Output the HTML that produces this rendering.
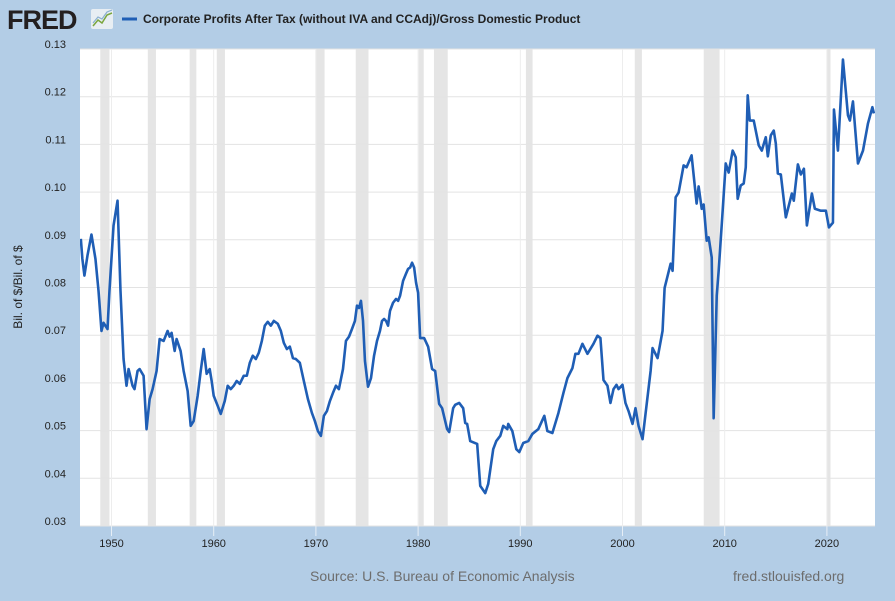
<!DOCTYPE html>
<html><head><meta charset="utf-8">
<style>
html,body{margin:0;padding:0;}
body{width:895px;height:601px;background:#b3cde6;overflow:hidden;font-family:"Liberation Sans",Arial,sans-serif;}
svg{display:block;}
</style></head>
<body>
<svg id="chart" width="895" height="601" xmlns="http://www.w3.org/2000/svg">
  <rect x="0" y="0" width="895" height="601" fill="#b3cde6"/>
  <g>
    <text x="7" y="29" font-family="Liberation Sans, sans-serif" font-size="27" font-weight="bold" fill="#231f20" letter-spacing="-1">FRED</text>
    <rect x="91" y="9" width="22" height="20" rx="2" fill="#e8eef3"/>
    <polyline points="93,26 98,20 102,23 107,15 112,13" fill="none" stroke="#7aa63f" stroke-width="1.5"/>
    <polyline points="93,23 98,17 102,19 107,12 112,10" fill="none" stroke="#8bb0d0" stroke-width="1.2"/>
  </g>
  <g>
    <line x1="122" y1="19" x2="137" y2="19" stroke="#1f5eb5" stroke-width="3"/>
    <text x="143" y="23" font-size="12" font-weight="bold" fill="#222">Corporate Profits After Tax (without IVA and CCAdj)/Gross Domestic Product</text>
  </g>
  <rect x="80" y="49" width="795" height="477" fill="#ffffff"/>
  <g id="recessions"></g>
  <g id="grid"></g>
  <g id="series"></g>
  <g id="axes"></g>
  <text transform="translate(22,287) rotate(-90)" text-anchor="middle" font-size="12" fill="#222">Bil. of $/Bil. of $</text>
  <text x="310" y="581" font-size="14" fill="#6d6d6d">Source: U.S. Bureau of Economic Analysis</text>
  <text x="733" y="581" font-size="14" fill="#6d6d6d">fred.stlouisfed.org</text>
</svg>
<script>
const yTicks = [0.03,0.04,0.05,0.06,0.07,0.08,0.09,0.10,0.11,0.12,0.13];
const yTickLabels = ["0.03","0.04","0.05","0.06","0.07","0.08","0.09","0.10","0.11","0.12","0.13"];
const xTicks = [1950,1960,1970,1980,1990,2000,2010,2020];
const xTickLabels = ["1950","1960","1970","1980","1990","2000","2010","2020"];
const recessionStarts = [1948.9,1953.55,1957.65,1960.3,1969.95,1973.9,1980.05,1981.55,1990.55,2001.2,2007.95,2020.0];
const recessionEnds   = [1949.8,1954.35,1958.3,1961.1,1970.85,1975.15,1980.55,1982.9,1991.2,2001.9,2009.5,2020.35];
const years = [1947.0,1947.15,1947.35,1947.65,1948.04,1948.43,1948.73,1949.02,1949.22,1949.61,1949.80,
1950.20,1950.59,1950.88,1951.18,1951.47,1951.67,1952.06,1952.25,1952.55,1952.75,
1953.14,1953.43,1953.73,1954.02,1954.41,1954.71,1955.10,1955.49,1955.69,1955.88,
1956.18,1956.37,1956.76,1957.06,1957.45,1957.75,1958.04,1958.43,1958.73,1959.02,
1959.31,1959.61,1959.80,1960.00,1960.39,1960.69,1961.08,1961.37,1961.67,1961.96,
1962.25,1962.55,1962.94,1963.24,1963.53,1963.82,1964.12,1964.41,1964.71,1965.00,
1965.29,1965.59,1965.88,1966.27,1966.57,1966.86,1967.16,1967.45,1967.75,1968.04,
1968.43,1968.82,1969.22,1969.61,1969.90,1970.20,1970.49,1970.78,1971.08,
1971.37,1971.67,1971.96,1972.25,1972.65,1972.94,1973.24,1973.53,1973.82,1974.02,
1974.22,1974.41,1974.61,1974.80,1975.10,1975.39,1975.69,1975.98,1976.27,1976.47,1976.67,1976.86,
1977.06,1977.25,1977.55,1977.84,1978.04,1978.24,1978.53,1978.82,1979.02,1979.22,1979.41,1979.61,
1979.80,1980.00,1980.20,1980.59,1980.98,1981.37,1981.67,1982.06,1982.35,1982.84,1983.04,1983.43,1983.63,
1984.02,1984.41,1984.61,1984.80,1985.10,1985.78,1986.08,1986.57,1986.86,1987.35,1987.65,1988.04,1988.33,
1988.73,1988.82,1989.22,1989.61,1989.90,1990.29,1990.78,1991.18,1991.76,1992.35,1992.65,1993.14,1993.73,
1994.22,1994.61,1995.10,1995.39,1995.69,1996.08,1996.57,1997.16,1997.55,1997.84,1998.14,1998.53,1998.82,
1999.12,1999.41,1999.61,2000.00,2000.29,2000.59,2000.98,2001.27,2001.57,2001.96,2002.75,2002.94,2003.43,
2003.92,2004.12,2004.71,2004.90,2005.20,2005.49,2005.98,2006.27,2006.76,2007.25,2007.45,2007.75,2007.94,
2008.24,2008.43,2008.73,2008.92,2009.22,2009.41,2009.80,2010.10,2010.39,2010.78,2011.08,2011.27,2011.57,
2011.86,2012.06,2012.25,2012.45,2012.84,2013.33,2013.63,2014.02,2014.22,2014.51,2014.80,2015.00,2015.20,
2015.49,2015.98,2016.57,2016.76,2017.16,2017.45,2017.75,2018.04,2018.53,2018.82,2019.41,2019.90,2020.20,
2020.59,2020.69,2021.08,2021.57,2022.06,2022.25,2022.55,2023.04,2023.53,2024.02,2024.45,2024.6];
const values = [0.0902,0.0860,0.0825,0.0867,0.0911,0.0860,0.0793,0.0709,0.0726,0.0713,0.0793,
0.0930,0.0982,0.0793,0.0650,0.0594,0.0629,0.0594,0.0587,0.0625,0.0629,
0.0615,0.0503,0.0566,0.0587,0.0625,0.0692,0.0688,0.0709,0.0697,0.0705,
0.0667,0.0692,0.0667,0.0625,0.0583,0.0510,0.0520,0.0573,0.0625,0.0671,
0.0619,0.0629,0.0604,0.0573,0.0552,0.0535,0.0562,0.0594,0.0587,0.0594,
0.0604,0.0598,0.0615,0.0615,0.0642,0.0657,0.0650,0.0663,0.0688,0.0720,
0.0728,0.0720,0.0730,0.0724,0.0709,0.0684,0.0671,0.0676,0.0652,0.0650,
0.0642,0.0604,0.0566,0.0537,0.0520,0.0499,0.0489,0.0531,0.0541,
0.0562,0.0579,0.0594,0.0587,0.0629,0.0688,0.0697,0.0713,0.0730,0.0762,
0.0757,0.0772,0.0730,0.0646,0.0592,0.0610,0.0657,0.0688,0.0709,0.0730,0.0734,0.0730,
0.0720,0.0751,0.0768,0.0776,0.0772,0.0783,0.0814,0.0829,0.0839,0.0842,0.0852,0.0842,
0.0810,0.0789,0.0694,0.0694,0.0676,0.0629,0.0625,0.0556,0.0547,0.0503,0.0497,0.0547,0.0554,
0.0558,0.0547,0.0516,0.0514,0.0478,0.0472,0.0384,0.0369,0.0388,0.0461,0.0478,0.0489,0.0510,
0.0503,0.0514,0.0499,0.0461,0.0455,0.0474,0.0478,0.0493,0.0503,0.0531,0.0499,0.0495,0.0537,
0.0579,0.0610,0.0631,0.0661,0.0661,0.0682,0.0661,0.0682,0.0699,0.0694,0.0606,0.0594,0.0558,
0.0587,0.0596,0.0587,0.0596,0.0558,0.0541,0.0514,0.0547,0.0510,0.0482,0.0625,0.0673,0.0652,
0.0709,0.0799,0.0850,0.0835,0.0989,0.0999,0.1056,0.1052,0.1077,0.0976,0.1012,0.0965,0.0974,
0.0898,0.0905,0.0863,0.0526,0.0783,0.0835,0.0961,0.1060,0.1041,0.1087,0.1073,0.0986,0.1014,
0.1018,0.1052,0.1203,0.1150,0.1150,0.1098,0.1087,0.1115,0.1075,0.1119,0.1129,0.1102,0.1039,
0.1037,0.0947,0.0997,0.0982,0.1058,0.1037,0.1049,0.0930,0.0997,0.0965,0.0961,0.0961,0.0926,
0.0936,0.1173,0.1087,0.1278,0.1161,0.1150,0.1190,0.1060,0.1087,0.1144,0.1178,0.1165];

const NS = "http://www.w3.org/2000/svg";
const PL = 80, PR = 875, PT = 49, PB = 526;
function xScale(yr){ return 111.5 + (yr - 1950) * 10.22; }
function yScale(v){ return PT + (0.13 - v) * 4770; }
function mk(tag, attrs, parent){
  const el = document.createElementNS(NS, tag);
  for (const k in attrs) el.setAttribute(k, attrs[k]);
  parent.appendChild(el);
  return el;
}
const gRec = document.getElementById('recessions');
const gGrid = document.getElementById('grid');
const gSer = document.getElementById('series');
const gAx = document.getElementById('axes');

for (let i = 0; i < recessionStarts.length; i++) {
  const x1 = Math.max(PL, xScale(recessionStarts[i]));
  const x2 = Math.min(PR, xScale(recessionEnds[i]));
  const r = mk('rect', {x:x1, y:PT, width:x2-x1, height:PB-PT, fill:'#e5e5e5'}, gRec);
  
  
}
for (let i = 0; i < yTicks.length; i++) {
  const y = yScale(yTicks[i]);
  const l = mk('line', {x1:PL, x2:PR, y1:y, y2:y, stroke:'#e3e3e3', 'stroke-width':1}, gGrid);
  
  
  const t = mk('text', {x:66, y:y-1, 'text-anchor':'end', 'font-size':11, fill:'#222'}, gAx);
  t.textContent = yTickLabels[i];
  
  
}
for (let i = 0; i < xTicks.length; i++) {
  const x = xScale(xTicks[i]);
  const l = mk('line', {x1:x, x2:x, y1:PT, y2:PB, stroke:'#ededed', 'stroke-width':1}, gGrid);
  
  
  const tk = mk('line', {x1:x, x2:x, y1:PB, y2:PB+10, stroke:'#e6eef6', 'stroke-width':1}, gAx);
  
  
  const t = mk('text', {x:x, y:PB+21, 'text-anchor':'middle', 'font-size':11, fill:'#222'}, gAx);
  t.textContent = xTickLabels[i];
  
  
}
const clip = mk('clipPath', {id:'plotclip'}, gSer);
mk('rect', {x:PL, y:PT, width:PR-PL, height:PB-PT}, clip);
let d = '';
for (let i = 0; i < years.length; i++) {
  d += (i ? 'L' : 'M') + xScale(years[i]).toFixed(2) + ',' + yScale(values[i]).toFixed(2);
}
const path = mk('path', {d:d, fill:'none', stroke:'#1f5eb5', 'stroke-width':2.6, 'stroke-linejoin':'round', 'clip-path':'url(#plotclip)'}, gSer);


</script>
</body></html>
